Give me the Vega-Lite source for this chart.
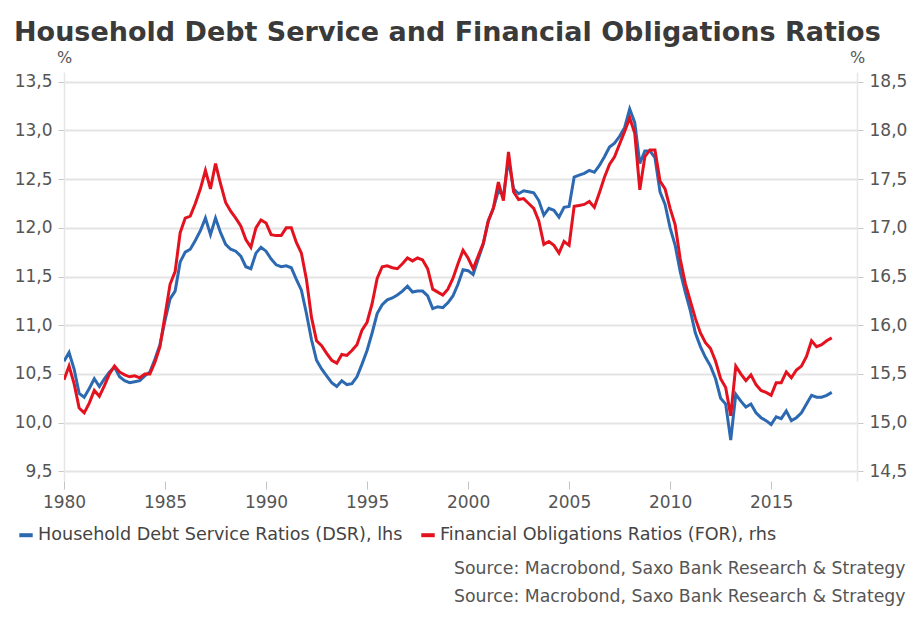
{
  "$schema": "https://vega.github.io/schema/vega-lite/v6.json",
  "width": 793,
  "height": 409,
  "autosize": {"type": "none"},
  "padding": {"left": 64, "top": 72, "right": 63, "bottom": 139},
  "background": "white",
  "title": {
    "text": "Household Debt Service and Financial Obligations Ratios",
    "anchor": "start",
    "frame": "group",
    "dx": -50,
    "offset": 2,
    "font": "DejaVu Sans",
    "fontSize": 27,
    "fontWeight": "bold",
    "color": "#3a3a3a"
  },
  "config": {
    "view": {"stroke": null},
    "font": "DejaVu Sans"
  },
  "data": {
    "values": [
      {"t":1980.0,"dsr":10.63,"for":15.44},{"t":1980.25,"dsr":10.72,"for":15.58},{"t":1980.5,"dsr":10.55,"for":15.4},{"t":1980.75,"dsr":10.3,"for":15.15},
      {"t":1981.0,"dsr":10.26,"for":15.1},{"t":1981.25,"dsr":10.35,"for":15.2},{"t":1981.5,"dsr":10.45,"for":15.33},{"t":1981.75,"dsr":10.37,"for":15.27},
      {"t":1982.0,"dsr":10.45,"for":15.38},{"t":1982.25,"dsr":10.52,"for":15.5},{"t":1982.5,"dsr":10.57,"for":15.58},{"t":1982.75,"dsr":10.47,"for":15.52},
      {"t":1983.0,"dsr":10.43,"for":15.49},{"t":1983.25,"dsr":10.41,"for":15.47},{"t":1983.5,"dsr":10.42,"for":15.48},{"t":1983.75,"dsr":10.43,"for":15.46},
      {"t":1984.0,"dsr":10.48,"for":15.5},{"t":1984.25,"dsr":10.52,"for":15.5},{"t":1984.5,"dsr":10.65,"for":15.62},{"t":1984.75,"dsr":10.8,"for":15.78},
      {"t":1985.0,"dsr":11.05,"for":16.1},{"t":1985.25,"dsr":11.27,"for":16.42},{"t":1985.5,"dsr":11.35,"for":16.55},{"t":1985.75,"dsr":11.65,"for":16.95},
      {"t":1986.0,"dsr":11.75,"for":17.1},{"t":1986.25,"dsr":11.78,"for":17.12},{"t":1986.5,"dsr":11.87,"for":17.25},{"t":1986.75,"dsr":11.97,"for":17.4},
      {"t":1987.0,"dsr":12.1,"for":17.59},{"t":1987.25,"dsr":11.93,"for":17.4},{"t":1987.5,"dsr":12.1,"for":17.66},{"t":1987.75,"dsr":11.95,"for":17.45},
      {"t":1988.0,"dsr":11.83,"for":17.26},{"t":1988.25,"dsr":11.78,"for":17.17},{"t":1988.5,"dsr":11.76,"for":17.1},{"t":1988.75,"dsr":11.71,"for":17.02},
      {"t":1989.0,"dsr":11.6,"for":16.88},{"t":1989.25,"dsr":11.58,"for":16.8},{"t":1989.5,"dsr":11.74,"for":17.0},{"t":1989.75,"dsr":11.8,"for":17.08},
      {"t":1990.0,"dsr":11.76,"for":17.05},{"t":1990.25,"dsr":11.68,"for":16.93},{"t":1990.5,"dsr":11.62,"for":16.92},{"t":1990.75,"dsr":11.6,"for":16.92},
      {"t":1991.0,"dsr":11.61,"for":17.0},{"t":1991.25,"dsr":11.59,"for":17.0},{"t":1991.5,"dsr":11.47,"for":16.85},{"t":1991.75,"dsr":11.36,"for":16.74},
      {"t":1992.0,"dsr":11.12,"for":16.47},{"t":1992.25,"dsr":10.85,"for":16.08},{"t":1992.5,"dsr":10.64,"for":15.84},{"t":1992.75,"dsr":10.55,"for":15.79},
      {"t":1993.0,"dsr":10.48,"for":15.71},{"t":1993.25,"dsr":10.41,"for":15.64},{"t":1993.5,"dsr":10.37,"for":15.61},{"t":1993.75,"dsr":10.43,"for":15.7},
      {"t":1994.0,"dsr":10.39,"for":15.69},{"t":1994.25,"dsr":10.4,"for":15.74},{"t":1994.5,"dsr":10.47,"for":15.8},{"t":1994.75,"dsr":10.6,"for":15.95},
      {"t":1995.0,"dsr":10.74,"for":16.03},{"t":1995.25,"dsr":10.92,"for":16.22},{"t":1995.5,"dsr":11.12,"for":16.48},{"t":1995.75,"dsr":11.21,"for":16.6},
      {"t":1996.0,"dsr":11.26,"for":16.61},{"t":1996.25,"dsr":11.28,"for":16.59},{"t":1996.5,"dsr":11.31,"for":16.58},{"t":1996.75,"dsr":11.35,"for":16.63},
      {"t":1997.0,"dsr":11.4,"for":16.69},{"t":1997.25,"dsr":11.34,"for":16.66},{"t":1997.5,"dsr":11.35,"for":16.69},{"t":1997.75,"dsr":11.35,"for":16.67},
      {"t":1998.0,"dsr":11.3,"for":16.58},{"t":1998.25,"dsr":11.17,"for":16.37},{"t":1998.5,"dsr":11.19,"for":16.34},{"t":1998.75,"dsr":11.18,"for":16.31},
      {"t":1999.0,"dsr":11.23,"for":16.37},{"t":1999.25,"dsr":11.3,"for":16.48},{"t":1999.5,"dsr":11.42,"for":16.63},{"t":1999.75,"dsr":11.57,"for":16.77},
      {"t":2000.0,"dsr":11.56,"for":16.69},{"t":2000.25,"dsr":11.52,"for":16.58},{"t":2000.5,"dsr":11.68,"for":16.71},{"t":2000.75,"dsr":11.83,"for":16.84},
      {"t":2001.0,"dsr":12.07,"for":17.07},{"t":2001.25,"dsr":12.2,"for":17.2},{"t":2001.5,"dsr":12.38,"for":17.47},{"t":2001.75,"dsr":12.33,"for":17.28},
      {"t":2002.0,"dsr":12.7,"for":17.78},{"t":2002.25,"dsr":12.4,"for":17.37},{"t":2002.5,"dsr":12.35,"for":17.29},{"t":2002.75,"dsr":12.38,"for":17.3},
      {"t":2003.0,"dsr":12.37,"for":17.25},{"t":2003.25,"dsr":12.36,"for":17.2},{"t":2003.5,"dsr":12.28,"for":17.07},{"t":2003.75,"dsr":12.13,"for":16.83},
      {"t":2004.0,"dsr":12.2,"for":16.86},{"t":2004.25,"dsr":12.18,"for":16.82},{"t":2004.5,"dsr":12.11,"for":16.74},{"t":2004.75,"dsr":12.21,"for":16.86},
      {"t":2005.0,"dsr":12.22,"for":16.82},{"t":2005.25,"dsr":12.52,"for":17.22},{"t":2005.5,"dsr":12.54,"for":17.23},{"t":2005.75,"dsr":12.56,"for":17.24},
      {"t":2006.0,"dsr":12.59,"for":17.27},{"t":2006.25,"dsr":12.57,"for":17.21},{"t":2006.5,"dsr":12.64,"for":17.36},{"t":2006.75,"dsr":12.73,"for":17.52},
      {"t":2007.0,"dsr":12.83,"for":17.65},{"t":2007.25,"dsr":12.87,"for":17.73},{"t":2007.5,"dsr":12.94,"for":17.86},{"t":2007.75,"dsr":13.03,"for":17.99},
      {"t":2008.0,"dsr":13.22,"for":18.13},{"t":2008.25,"dsr":13.08,"for":17.97},{"t":2008.5,"dsr":12.66,"for":17.39},{"t":2008.75,"dsr":12.79,"for":17.73},
      {"t":2009.0,"dsr":12.79,"for":17.8},{"t":2009.25,"dsr":12.72,"for":17.8},{"t":2009.5,"dsr":12.37,"for":17.48},{"t":2009.75,"dsr":12.24,"for":17.4},
      {"t":2010.0,"dsr":12.0,"for":17.2},{"t":2010.25,"dsr":11.82,"for":17.03},{"t":2010.5,"dsr":11.55,"for":16.68},{"t":2010.75,"dsr":11.34,"for":16.43},
      {"t":2011.0,"dsr":11.15,"for":16.25},{"t":2011.25,"dsr":10.92,"for":16.07},{"t":2011.5,"dsr":10.78,"for":15.92},{"t":2011.75,"dsr":10.67,"for":15.82},
      {"t":2012.0,"dsr":10.58,"for":15.76},{"t":2012.25,"dsr":10.45,"for":15.63},{"t":2012.5,"dsr":10.25,"for":15.45},{"t":2012.75,"dsr":10.19,"for":15.36},
      {"t":2013.0,"dsr":9.82,"for":15.07},{"t":2013.25,"dsr":10.29,"for":15.58},{"t":2013.5,"dsr":10.22,"for":15.5},{"t":2013.75,"dsr":10.16,"for":15.43},
      {"t":2014.0,"dsr":10.19,"for":15.49},{"t":2014.25,"dsr":10.1,"for":15.39},{"t":2014.5,"dsr":10.05,"for":15.33},{"t":2014.75,"dsr":10.02,"for":15.31},
      {"t":2015.0,"dsr":9.98,"for":15.28},{"t":2015.25,"dsr":10.06,"for":15.41},{"t":2015.5,"dsr":10.04,"for":15.41},{"t":2015.75,"dsr":10.12,"for":15.52},
      {"t":2016.0,"dsr":10.02,"for":15.46},{"t":2016.25,"dsr":10.05,"for":15.54},{"t":2016.5,"dsr":10.1,"for":15.58},{"t":2016.75,"dsr":10.19,"for":15.68},
      {"t":2017.0,"dsr":10.28,"for":15.84},{"t":2017.25,"dsr":10.26,"for":15.78},{"t":2017.5,"dsr":10.26,"for":15.8},{"t":2017.75,"dsr":10.28,"for":15.84},
      {"t":2018.0,"dsr":10.31,"for":15.87}
    ]
  },
  "layer": [
    {
      "mark": {"type": "line", "strokeWidth": 3, "clip": true},
      "encoding": {
        "x": {
          "field": "t",
          "type": "quantitative",
          "scale": {"domain": [1980, 2019.25], "nice": false, "zero": false},
          "axis": {
            "values": [1980, 1985, 1990, 1995, 2000, 2005, 2010, 2015],
            "format": "d",
            "grid": false,
            "domain": false,
            "ticks": true,
            "labelFlush": false,
            "tickColor": "#c4c4c4",
            "tickSize": 8,
            "tickWidth": 1,
            "labelFontSize": 17,
            "labelColor": "#555555",
            "labelPadding": 5,
            "title": ["Source: Macrobond, Saxo Bank Research & Strategy", "Source: Macrobond, Saxo Bank Research & Strategy"],
            "titleX": 841,
            "titleY": 87,
            "titleAlign": "right",
            "titleBaseline": "middle",
            "titleFontSize": 17.3,
            "titleFontWeight": "normal",
            "titleColor": "#555555",
            "titleLineHeight": 28
          }
        },
        "y": {
          "field": "dsr",
          "type": "quantitative",
          "scale": {"domain": [9.4, 13.6], "nice": false, "zero": false},
          "axis": {
            "orient": "left",
            "values": [9.5, 10, 10.5, 11, 11.5, 12, 12.5, 13, 13.5],
            "labelExpr": "replace(format(datum.value, '.1f'), '.', ',')",
            "grid": true,
            "gridColor": "#e4e4e4",
            "gridWidth": 2,
            "domainColor": "#e6e6e6",
            "domainWidth": 1.5,
            "tickColor": "#c8c8c8",
            "tickSize": 6,
            "labelPadding": 6,
            "labelFontSize": 17,
            "labelColor": "#555555",
            "title": "%",
            "titleAngle": 0,
            "titleX": 0,
            "titleY": -15,
            "titleAlign": "center",
            "titleBaseline": "middle",
            "titleFontSize": 16,
            "titleFontWeight": "normal",
            "titleColor": "#555555"
          }
        },
        "color": {
          "datum": "Household Debt Service Ratios (DSR), lhs",
          "scale": {
            "domain": ["Household Debt Service Ratios (DSR), lhs", "Financial Obligations Ratios (FOR), rhs"],
            "range": ["#2d69b1", "#e3121e"]
          },
          "legend": {
            "orient": "none",
            "legendX": -47,
            "legendY": 454,
            "direction": "horizontal",
            "columns": 2,
            "title": null,
            "symbolType": "stroke",
            "symbolStrokeWidth": 4,
            "symbolSize": 180,
            "labelFontSize": 17.6,
            "labelColor": "#444444",
            "labelLimit": 600,
            "labelOffset": 3,
            "columnPadding": 10
          }
        }
      }
    },
    {
      "mark": {"type": "line", "strokeWidth": 3, "clip": true},
      "encoding": {
        "x": {"field": "t", "type": "quantitative"},
        "y": {
          "field": "for",
          "type": "quantitative",
          "scale": {"domain": [14.4, 18.6], "nice": false, "zero": false},
          "axis": {
            "orient": "right",
            "values": [14.5, 15, 15.5, 16, 16.5, 17, 17.5, 18, 18.5],
            "labelExpr": "replace(format(datum.value, '.1f'), '.', ',')",
            "grid": false,
            "domainColor": "#e6e6e6",
            "domainWidth": 1.5,
            "tickColor": "#c8c8c8",
            "tickSize": 6,
            "labelPadding": 6,
            "labelFontSize": 17,
            "labelColor": "#555555",
            "title": "%",
            "titleAngle": 0,
            "titleX": 0,
            "titleY": -15,
            "titleAlign": "center",
            "titleBaseline": "middle",
            "titleFontSize": 16,
            "titleFontWeight": "normal",
            "titleColor": "#555555"
          }
        },
        "color": {"datum": "Financial Obligations Ratios (FOR), rhs"}
      }
    }
  ],
  "resolve": {"scale": {"y": "independent"}}
}
